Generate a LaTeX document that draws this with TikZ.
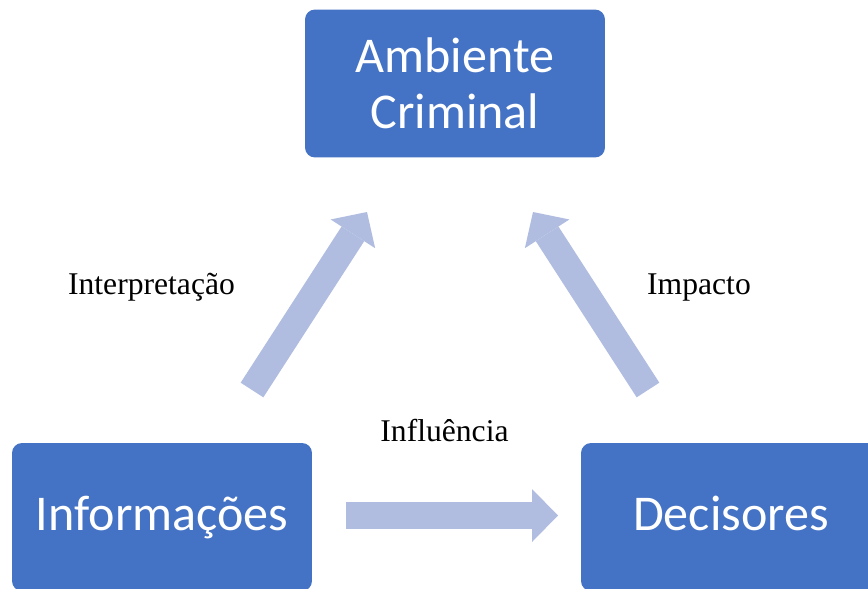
\documentclass[tikz,border=0pt]{standalone}
\usepackage{fontspec}
\setmainfont{Liberation Serif}
\newfontfamily\caixafont{Carlito}
\usetikzlibrary{arrows.meta}
\definecolor{azulcaixa}{RGB}{68,114,196}
\definecolor{azulseta}{RGB}{176,189,224}

\begin{document}
\begin{tikzpicture}
      [x=0.02cm, y=-0.02cm,
       caixa/.style={fill=azulcaixa, rounded corners=0.2cm, minimum width=6cm,
         minimum height=2.96cm, text=white, align=center,
         font=\caixafont\fontsize{28.5}{32}\selectfont},
       linha/.style={text height=0.8cm, text depth=0.28cm},
       seta/.style={draw=azulseta, line width=0.54cm,
         -{Triangle[width=1.06cm, length=0.52cm, line width=0pt]}},
       rotulo/.style={anchor=base, font=\fontsize{18}{20}\selectfont}]
      \useasboundingbox (0, 0) rectangle (868, 588);

      \node[caixa] (ambiente) at (455, 83.5) {Ambiente\\Criminal};
      \node[caixa, linha] (informacoes) at (162, 517) {Informações};
      \node[caixa, linha] (decisores) at (731, 517) {Decisores};

      \coordinate (interp-ini) at (252, 390);
      \coordinate (interp-fim) at (367, 212);
      \coordinate (impacto-ini) at (648, 390);
      \coordinate (impacto-fim) at (533, 212);
      \coordinate (influ-ini) at (346, 515.5);
      \coordinate (influ-fim) at (558, 515.5);

      \draw[seta] (interp-ini) -- (interp-fim);
      \draw[seta] (impacto-ini) -- (impacto-fim);
      \draw[seta] (influ-ini) -- (influ-fim);

      \node[rotulo] (interpretacao) at (151.5, 294) {Interpretação};
      \node[rotulo] (impacto) at (699, 294) {Impacto};
      \node[rotulo] (influencia) at (444.5, 441) {Influência};
    \end{tikzpicture}
\end{document}
